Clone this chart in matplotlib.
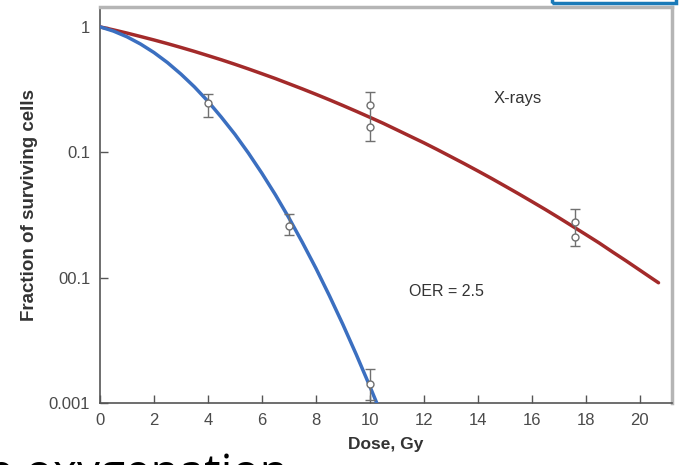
import matplotlib
matplotlib.use("Agg")
import matplotlib.pyplot as plt
from matplotlib.patches import Rectangle
import numpy as np

plt.rcParams['font.family'] = ['Liberation Sans', 'DejaVu Sans']

# ---- data ----
blue_curve_x = [0, 0.5, 1, 1.5, 2, 2.5, 3, 3.5, 4, 4.5, 5, 5.5, 6, 6.5, 7, 7.5, 8, 8.5, 9, 9.5, 10, 10.3]
blue_curve_y = [1.0, 0.925, 0.833, 0.730, 0.624, 0.519, 0.42, 0.332, 0.255, 0.190, 0.139, 0.0985,
                0.068, 0.0458, 0.030, 0.0191, 0.0119, 0.00719, 0.00424, 0.00243, 0.00136, 0.00095]

red_curve_x = [0, 0.5, 1, 1.5, 2, 2.5, 3, 3.5, 4, 4.5, 5, 5.5, 6, 6.5, 7, 7.5, 8, 8.5, 9, 9.5,
               10, 10.5, 11, 11.5, 12, 12.5, 13, 13.5, 14, 14.5, 15, 15.5, 16, 16.5, 17, 17.5,
               18, 18.5, 19, 19.5, 20, 20.5, 20.7]
red_curve_y = [1.0, 0.946, 0.892, 0.838, 0.786, 0.735, 0.685, 0.637, 0.590, 0.546, 0.503, 0.462,
               0.423, 0.387, 0.352, 0.320, 0.290, 0.262, 0.236, 0.212, 0.190, 0.170, 0.151, 0.134,
               0.119, 0.105, 0.0923, 0.0811, 0.0710, 0.0620, 0.0539, 0.0468, 0.0405, 0.0350,
               0.0301, 0.0258, 0.0221, 0.0189, 0.0160, 0.0136, 0.0115, 0.00972, 0.0091]

pts_x = [4, 7, 10, 10, 10, 17.6, 17.6]
pts_y = [0.245, 0.026, 0.00143, 0.24, 0.16, 0.028, 0.021]

bar_x = [4, 7, 10, 10, 17.6]
bar_lo = [0.19, 0.022, 0.00105, 0.124, 0.018]
bar_hi = [0.29, 0.032, 0.00188, 0.30, 0.035]

y_ticks = [1, 0.1, 0.01, 0.001]
y_ticklabels = ["1", "0.1", "00.1", "0.001"]
x_ticks = [0, 2, 4, 6, 8, 10, 12, 14, 16, 18, 20]

W, H = 681, 465
fig = plt.figure(figsize=(W / 100, H / 100), dpi=100)
ax = fig.add_axes([100 / W, 1 - 403 / H, 572 / W, 396 / H])

ax.set_yscale('log')
ax.set_xlim(0, 21.2)
ax.set_ylim(0.001, 1.44)

ax.plot(red_curve_x, red_curve_y, color='#a32a2a', lw=2.5, solid_capstyle='round', zorder=3)
ax.plot(blue_curve_x, blue_curve_y, color='#3b6fc0', lw=2.5, solid_capstyle='round', zorder=3)

bx = np.array(bar_x)
lo = np.array(bar_lo)
hi = np.array(bar_hi)
mid = np.sqrt(lo * hi)
ax.errorbar(bx, mid, yerr=[mid - lo, hi - mid], fmt='none', ecolor='#707070',
            elinewidth=1.0, capsize=3.5, capthick=1.0, zorder=4)
ax.plot(pts_x, pts_y, 'o', ms=5, mfc='white', mec='#707070', mew=1.0, zorder=5, clip_on=False)

ax.text(15.5, 0.27, "X-rays", ha='center', va='center', fontsize=12, color='#333333')
ax.text(12.85, 0.0077, "OER = 2.5", ha='center', va='center', fontsize=11.5, color='#333333')

ax.set_yticks(y_ticks)
ax.set_yticklabels(y_ticklabels)
ax.yaxis.set_minor_locator(matplotlib.ticker.NullLocator())
ax.set_xticks(x_ticks)
ax.tick_params(direction='in', length=6, width=1, colors='#555555', labelcolor='#4a4a4a',
               labelsize=12, pad=7)

for s in ['left', 'bottom']:
    ax.spines[s].set_color('#555555')
    ax.spines[s].set_linewidth(1.2)
for s in ['top', 'right']:
    ax.spines[s].set_color('#b5b5b5')
    ax.spines[s].set_linewidth(2.5)

ax.set_ylabel("Fraction of surviving cells", fontsize=13.5, fontweight='bold', color='#333333')
ax.yaxis.set_label_coords(-62 / 572, 0.5)
ax.set_xlabel("Dose, Gy", fontsize=12.5, fontweight='bold', color='#333333')
ax.xaxis.set_label_coords(0.5, -(437 - 403) / 396)

# partial slide text at bottom and blue box at top right (cut off in the reference too)
fig.text(-12 / W, 1 - 487 / H, "e oxygenation", fontsize=33, color='black',
         ha='left', va='baseline', family=['Open Sans', 'DejaVu Sans'])
fig.patches.append(Rectangle((552 / W, 1 - 3 / H), 124 / W, 40 / H, transform=fig.transFigure,
                             fill=False, edgecolor='#1a7ab8', lw=2.5, figure=fig))

fig.savefig("out.png", dpi=100)
